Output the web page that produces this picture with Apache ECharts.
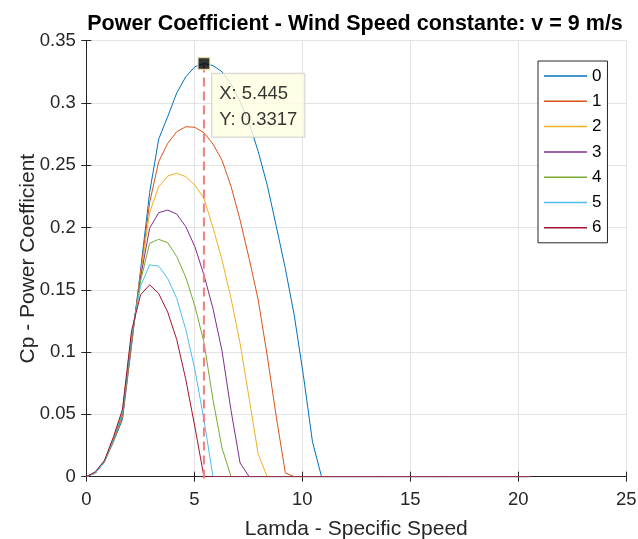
<!DOCTYPE html>
<html>
<head>
<meta charset="utf-8">
<script src="https://cdn.jsdelivr.net/npm/echarts@6/dist/echarts.min.js"></script>
<style>
html,body{margin:0;padding:0;background:#fff;}
#chart{width:638px;height:539px;}
</style>
</head>
<body>
<div id="chart"></div>
<script>
// Tip speed ratio samples (lambda)
var lambda = [0, 0.419, 0.838, 1.257, 1.675, 2.094, 2.513, 2.932, 3.351, 3.770,
  4.188, 4.607, 5.026, 5.445, 5.864, 6.283, 6.702, 7.120, 7.539, 7.958,
  8.377, 8.796, 9.215, 9.633, 10.052, 10.471, 10.890, 11.309, 11.728, 12.147,
  12.565, 12.984, 13.403, 13.822, 14.241, 14.660, 15.078, 15.497, 15.916, 16.335,
  16.754, 17.173, 17.592, 18.010, 18.429, 18.848, 19.267, 19.686, 20.105, 20.523];

var seriesNames = ['0', '1', '2', '3', '4', '5', '6'];

var cp0 = [0, 0.003, 0.012, 0.028, 0.046, 0.105, 0.166, 0.228, 0.271, 0.289,
  0.308, 0.321, 0.329, 0.3317, 0.330, 0.325, 0.315, 0.301, 0.284, 0.261,
  0.234, 0.201, 0.167, 0.129, 0.081, 0.028, 0, 0, 0, 0,
  0, 0, 0, 0, 0, 0, 0, 0, 0, 0,
  0, 0, 0, 0, 0, 0, 0, 0, 0, 0];
var cp1 = [0, 0.003, 0.012, 0.029, 0.048, 0.107, 0.164, 0.220, 0.2528, 0.2676,
  0.2769, 0.2809, 0.2804, 0.2761, 0.267, 0.254, 0.233, 0.206, 0.175, 0.142,
  0.097, 0.048, 0.003, 0, 0, 0, 0, 0, 0, 0,
  0, 0, 0, 0, 0, 0, 0, 0, 0, 0,
  0, 0, 0, 0, 0, 0, 0, 0, 0, 0];
var cp2 = [0, 0.003, 0.012, 0.029, 0.049, 0.108, 0.162, 0.212, 0.2327, 0.2413,
  0.2435, 0.2408, 0.234, 0.2234, 0.200, 0.174, 0.143, 0.107, 0.063, 0.018,
  0, 0, 0, 0, 0, 0, 0, 0, 0, 0,
  0, 0, 0, 0, 0, 0, 0, 0, 0, 0,
  0, 0, 0, 0, 0, 0, 0, 0, 0, 0];
var cp3 = [0, 0.003, 0.012, 0.030, 0.050, 0.110, 0.160, 0.1994, 0.2119, 0.214,
  0.2108, 0.2006, 0.1846, 0.162, 0.135, 0.101, 0.053, 0.011, 0, 0,
  0, 0, 0, 0, 0, 0, 0, 0, 0, 0,
  0, 0, 0, 0, 0, 0, 0, 0, 0, 0,
  0, 0, 0, 0, 0, 0, 0, 0, 0, 0];
var cp4 = [0, 0.003, 0.012, 0.030, 0.051, 0.112, 0.157, 0.1873, 0.1905, 0.1878,
  0.1766, 0.160, 0.137, 0.108, 0.062, 0.023, 0, 0, 0, 0,
  0, 0, 0, 0, 0, 0, 0, 0, 0, 0,
  0, 0, 0, 0, 0, 0, 0, 0, 0, 0,
  0, 0, 0, 0, 0, 0, 0, 0, 0, 0];
var cp5 = [0, 0.003, 0.012, 0.031, 0.052, 0.114, 0.153, 0.170, 0.169, 0.159,
  0.143, 0.118, 0.086, 0.046, 0, 0, 0, 0, 0, 0,
  0, 0, 0, 0, 0, 0, 0, 0, 0, 0,
  0, 0, 0, 0, 0, 0, 0, 0, 0, 0,
  0, 0, 0, 0, 0, 0, 0, 0, 0, 0];
var cp6 = [0, 0.004, 0.013, 0.032, 0.054, 0.117, 0.146, 0.154, 0.147, 0.132,
  0.110, 0.078, 0.040, 0, 0, 0, 0, 0, 0, 0,
  0, 0, 0, 0, 0, 0, 0, 0, 0, 0,
  0, 0, 0, 0, 0, 0, 0, 0, 0, 0,
  0, 0, 0, 0, 0, 0, 0, 0, 0, 0];

// Data tip
var tipX = 5.445;
var tipY = 0.3317;
var tipLineBottom = -0.005;

var colors = ['#0072BD', '#D95319', '#EDB120', '#7E2F8E', '#77AC30', '#4DBEEE', '#A2142F'];
var allCp = [cp0, cp1, cp2, cp3, cp4, cp5, cp6];

var FONT = "'Liberation Sans', Arial, Helvetica, sans-serif";
var INK = '#262626';

var series = allCp.map(function (arr, k) {
  return {
    name: seriesNames[k],
    type: 'line',
    symbol: 'none',
    showSymbol: false,
    color: colors[k],
    lineStyle: { width: 1, color: colors[k] },
    emphasis: { disabled: true },
    animation: false,
    data: lambda.map(function (x, i) { return [x, arr[i]]; })
  };
});

series.push({
  name: 'tipline',
  type: 'line',
  symbol: 'none',
  clip: false,
  z: 5,
  animation: false,
  lineStyle: { width: 2, color: '#F47C7C', type: [9, 5] },
  data: [[tipX, tipY], [tipX, tipLineBottom]]
});

series.push({
  name: 'tip',
  type: 'scatter',
  symbol: 'rect',
  symbolSize: 12,
  z: 10,
  animation: false,
  itemStyle: { color: '#000', borderColor: '#F2EFB8', borderWidth: 1.5 },
  label: {
    show: true,
    position: [15, 17],
    align: 'left',
    verticalAlign: 'top',
    formatter: 'X: ' + tipX + '\nY: ' + tipY,
    fontFamily: FONT,
    fontSize: 18.5,
    lineHeight: 26,
    color: '#000',
    backgroundColor: '#FFFFE1',
    borderColor: '#C8C8C8',
    borderWidth: 1,
    padding: [7, 7, 4, 7]
  },
  data: [[tipX, tipY]]
});

var chart = echarts.init(document.getElementById('chart'), null, { renderer: 'canvas' });
chart.setOption({
  backgroundColor: '#fff',
  animation: false,
  title: {
    text: 'Power Coefficient - Wind Speed constante: v = 9 m/s',
    left: 350,
    textAlign: 'center',
    top: 8,
    textStyle: { fontFamily: FONT, fontSize: 21.5, fontWeight: 'bold', color: '#000' }
  },
  grid: { left: 86.3, right: 11.7, top: 40.6, bottom: 62.3, containLabel: false, outerBoundsMode: 'none' },
  legend: {
    data: seriesNames.map(function (n) { return { name: n, icon: 'rect' }; }),
    orient: 'vertical',
    left: 538,
    top: 61,
    padding: [5, 6, 5, 6],
    itemWidth: 43,
    itemHeight: 1.5,
    itemGap: 5.3,
    borderColor: INK,
    borderWidth: 1,
    backgroundColor: '#fff',
    itemStyle: { borderWidth: 0 },
    textStyle: { fontFamily: FONT, fontSize: 17, color: '#000', lineHeight: 20 }
  },
  xAxis: [{
    type: 'value', min: 0, max: 25, interval: 5,
    name: 'Lamda - Specific Speed', nameLocation: 'middle', nameGap: 42,
    nameMoveOverlap: false,
    nameTextStyle: { fontFamily: FONT, fontSize: 21, color: INK },
    axisLine: { show: true, onZero: false, lineStyle: { color: INK, width: 1 } },
    axisTick: { show: true, inside: true, length: 5, lineStyle: { color: INK } },
    axisLabel: { fontFamily: FONT, fontSize: 18.5, color: INK, margin: 14 },
    splitLine: { show: true, lineStyle: { color: '#E3E3E3', width: 1 } }
  }, {
    type: 'value', min: 0, max: 25, interval: 5, position: 'top',
    axisLine: { show: true, lineStyle: { color: INK, width: 1 } },
    axisTick: { show: true, inside: true, length: 5, lineStyle: { color: INK } },
    axisLabel: { show: false },
    splitLine: { show: false }
  }],
  yAxis: [{
    type: 'value', min: 0, max: 0.35, interval: 0.05,
    name: 'Cp - Power Coefficient', nameLocation: 'middle', nameGap: 48,
    nameMoveOverlap: false,
    nameTextStyle: { fontFamily: FONT, fontSize: 21, color: INK },
    axisLine: { show: true, onZero: false, lineStyle: { color: INK, width: 1 } },
    axisTick: { show: true, inside: true, length: 5, lineStyle: { color: INK } },
    axisLabel: { fontFamily: FONT, fontSize: 18.5, color: INK, margin: 10.5 },
    splitLine: { show: true, lineStyle: { color: '#E3E3E3', width: 1 } }
  }, {
    type: 'value', min: 0, max: 0.35, interval: 0.05, position: 'right',
    axisLine: { show: true, lineStyle: { color: INK, width: 1 } },
    axisTick: { show: true, inside: true, length: 5, lineStyle: { color: INK } },
    axisLabel: { show: false },
    splitLine: { show: false }
  }],
  series: series
});
</script>
</body>
</html>
